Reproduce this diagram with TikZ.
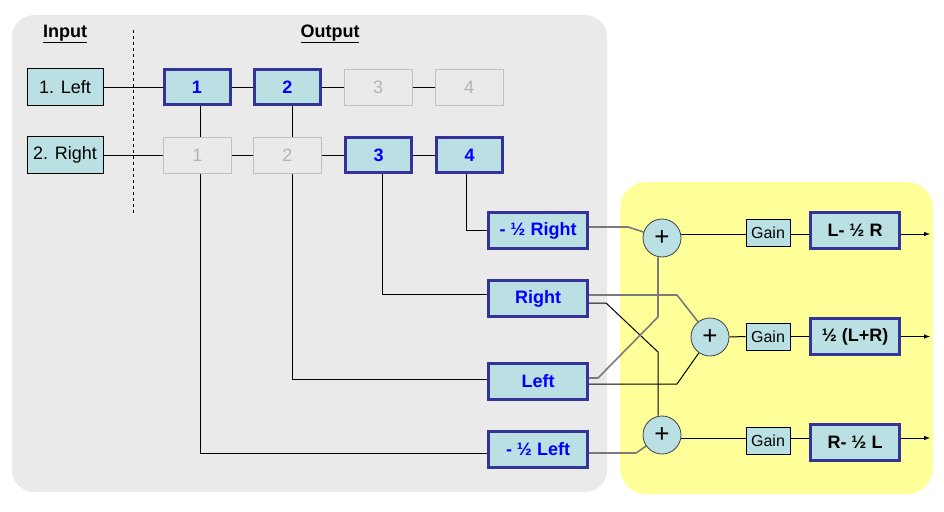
\documentclass[tikz,border=0pt]{standalone}
\usepackage{fontspec}
\setmainfont{Liberation Sans}
\pgfdeclarelayer{panel}
\pgfdeclarelayer{lines}
\pgfsetlayers{panel,lines,main}
\definecolor{boxfill}{HTML}{BBE0E3}
\definecolor{blueedge}{HTML}{333399}
\definecolor{bluetext}{HTML}{0000FF}
\definecolor{panelgray}{HTML}{EAEAEA}
\definecolor{panelyellow}{HTML}{FFFF99}
\definecolor{ghostedge}{HTML}{C0C0C0}
\definecolor{ghosttext}{HTML}{B4B4B4}
\definecolor{softline}{HTML}{7A7A7A}
\tikzset{
  x=1pt,y=-1pt,
  big/.style={font=\fontsize{18}{20}\selectfont},
  inbox/.style={draw=black,line width=1pt,fill=boxfill,big,minimum width=76,minimum height=37,inner sep=0pt},
  bluebox/.style={draw=blueedge,line width=3pt,fill=boxfill,big,font=\fontsize{18}{20}\selectfont\bfseries,text=bluetext,minimum width=66,minimum height=35,inner sep=0pt},
  ghostbox/.style={draw=ghostedge,line width=1pt,fill=panelgray,big,text=ghosttext,minimum width=68,minimum height=36,inner sep=0pt},
  sigbox/.style={bluebox,minimum width=99,minimum height=36},
  outbox/.style={bluebox,text=black,minimum width=89,minimum height=36},
  plusnode/.style={circle,draw=black!75,line width=0.8pt,fill=boxfill,minimum size=38,inner sep=0pt,font=\fontsize{26}{26}\selectfont},
  gainbox/.style={draw=black,line width=0.8pt,fill=boxfill,font=\fontsize{16}{18}\selectfont,minimum width=44,minimum height=27,inner sep=0pt},
  wire/.style={draw=black,line width=1pt},
  softwire/.style={draw=softline,line width=1.6pt},
  heading/.style={font=\fontsize{18}{20}\selectfont\bfseries}
}
\begin{document}
\begin{tikzpicture}
\useasboundingbox (0,0) rectangle (944,511);
% panels
\begin{pgfonlayer}{panel}
\fill[panelgray,rounded corners=22pt] (12,15) rectangle (607,492);
\fill[panelyellow,rounded corners=26pt] (620,182) rectangle (933,494);
\end{pgfonlayer}
% headings
\node[heading] (hin) at (65,34) {\underline{Input}};
\node[heading] (hout) at (330,34) {\underline{Output}};
\coordinate (dtop) at (133,30);
\coordinate (dbot) at (133,216);
\draw[dashed,line width=0.8pt] (dtop) -- (dbot);
% input boxes
\node[inbox] (in1) at (65,87) {1. Left};
\node[inbox] (in2) at (65,155) {2. Right};
% output matrix
\node[bluebox] (o11) at (197,87) {1};
\node[bluebox] (o12) at (287.5,87) {2};
\node[ghostbox] (o13) at (378,87) {3};
\node[ghostbox] (o14) at (469,87) {4};
\node[ghostbox] (o21) at (197.5,155) {1};
\node[ghostbox] (o22) at (287.5,155) {2};
\node[bluebox] (o23) at (378.5,155) {3};
\node[bluebox] (o24) at (469.5,155) {4};
% signal boxes
\node[sigbox] (nR) at (538,230.5) {- ½ Right};
\node[sigbox] (R) at (538,298.5) {Right};
\node[sigbox] (L) at (538,381.5) {Left};
\node[sigbox] (nL) at (538,449.5) {- ½ Left};
% summers
\node[plusnode] (p1) at (662,238) {+};
\node[plusnode] (p2) at (710,337) {+};
\node[plusnode] (p3) at (662,435) {+};
% gains
\node[gainbox] (g1) at (768,233) {Gain};
\node[gainbox] (g2) at (768,336.5) {Gain};
\node[gainbox] (g3) at (768,440.5) {Gain};
% outputs
\node[outbox] (out1) at (855,230.5) {L- ½ R};
\node[outbox] (out2) at (855,336.5) {½ (L+R)};
\node[outbox] (out3) at (855,442.5) {R- ½ L};
\coordinate (e1) at (930,234);
\coordinate (e2) at (930,336.5);
\coordinate (e3) at (930,438);
% wires
\begin{pgfonlayer}{lines}
\draw[wire] (in1.east) -- (o11.west);
\draw[wire] (o11.east) -- (o12.west);
\draw[wire] (o12.east) -- (o13.west);
\draw[wire] (o13.east) -- (o14.west);
\draw[wire] (in2.east) -- (o21.west);
\draw[wire] (o21.east) -- (o22.west);
\draw[wire] (o22.east) -- (o23.west);
\draw[wire] (o23.east) -- (o24.west);
\draw[wire] ([xshift=3pt]o11.south) |- ([yshift=-3.5pt]nL.west);
\draw[wire] ([xshift=4.5pt]o12.south) |- ([yshift=2.5pt]L.west);
\draw[wire] ([xshift=3.5pt]o23.south) |- ([yshift=4.5pt]R.west);
\draw[wire] ([xshift=-3.5pt]o24.south) |- (nR.west);
% crossing network
\draw[softwire] ([yshift=3.5pt]nR.east) -- (628,227) -- (p1);
\draw[softwire] ([yshift=3.5pt]R.east) -- (677,295) -- (p2);
\draw[wire] ([yshift=-4.5pt]R.east) -- (606,303) -- (658,352) -- ([xshift=-4pt]p3.north);
\draw[softwire] ([yshift=3.5pt]L.east) -- (598,378) -- (658,317) -- ([xshift=-4pt]p1.south);
\draw[wire] ([yshift=-2.5pt]L.east) -- (677,384) -- (p2);
\draw[softwire] ([yshift=-3.5pt]nL.east) -- (636,453) -- (p3);
% output chains
\draw[wire] (p1.east |- e1) -- (g1.west |- e1);
\draw[wire] (g1.east |- e1) -- (out1.west |- e1);
\draw[wire,-latex] (out1.east |- e1) -- (e1);
\draw[wire] (p2.east) -- (g2.west);
\draw[wire] (g2.east) -- (out2.west);
\draw[wire,-latex] (out2.east) -- (e2);
\draw[wire] (p3.east |- e3) -- (g3.west |- e3);
\draw[wire] (g3.east |- e3) -- (out3.west |- e3);
\draw[wire,-latex] (out3.east |- e3) -- (e3);
\end{pgfonlayer}
\end{tikzpicture}
\end{document}
